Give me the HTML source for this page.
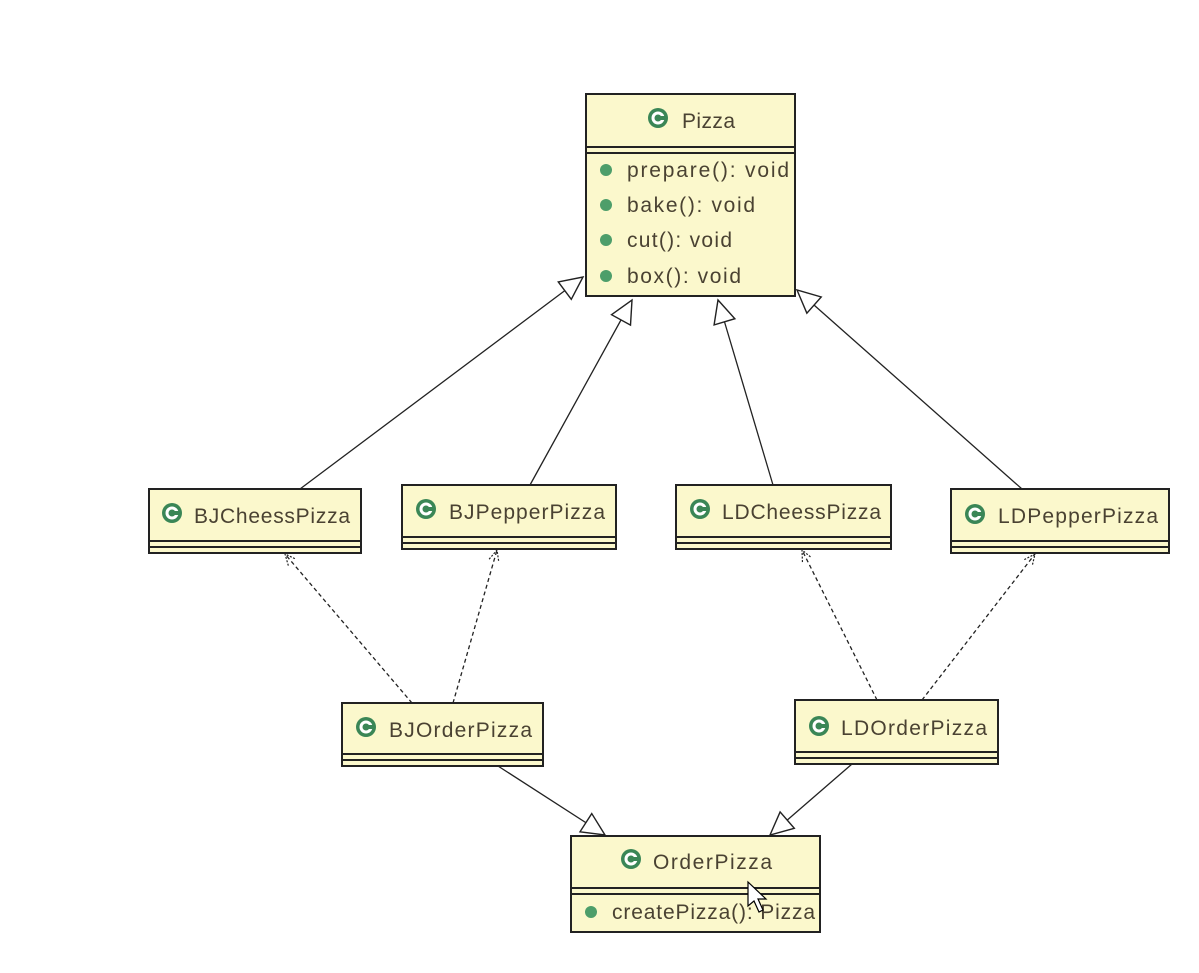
<!DOCTYPE html>
<html><head><meta charset="utf-8"><style>
html,body{margin:0;padding:0;background:#fff;}
svg{display:block;}
text{font-family:"Liberation Sans",sans-serif;fill:#4a4232;}
</style></head><body>
<svg width="1199" height="973" viewBox="0 0 1199 973" xmlns="http://www.w3.org/2000/svg">
<defs>
<marker id="tri" markerUnits="userSpaceOnUse" markerWidth="26" markerHeight="26" refX="22" refY="11" orient="auto" viewBox="0 0 24 22">
<path d="M1,1 L22,11 L1,21 Z" fill="#fff" stroke="#222" stroke-width="1.3"/>
</marker>
<marker id="open" markerUnits="userSpaceOnUse" markerWidth="14" markerHeight="14" refX="12" refY="6" orient="auto" viewBox="0 0 14 12">
<path d="M1,1 L12,6 L1,11" fill="none" stroke="#222" stroke-width="1.2" stroke-dasharray="2 1.5"/>
</marker>
<g id="ci"><circle r="10" fill="#3a8656"/><circle r="5" fill="none" stroke="#fff" stroke-width="3"/><rect x="2" y="-2" width="7" height="4" fill="#3a8656"/></g>
</defs>
<g stroke="#222" stroke-width="1.3" fill="none">
<line x1="300" y1="489" x2="583" y2="277" marker-end="url(#tri)"/>
<line x1="530" y1="485" x2="632" y2="300" marker-end="url(#tri)"/>
<line x1="773" y1="485" x2="718" y2="300" marker-end="url(#tri)"/>
<line x1="1022" y1="489" x2="797" y2="290" marker-end="url(#tri)"/>
<line x1="498" y1="766" x2="605" y2="835" marker-end="url(#tri)"/>
<line x1="852" y1="764" x2="770" y2="835" marker-end="url(#tri)"/>
<g stroke-dasharray="4 3">
<line x1="412" y1="703" x2="285" y2="554" marker-end="url(#open)"/>
<line x1="453" y1="703" x2="497" y2="550" marker-end="url(#open)"/>
<line x1="877" y1="700" x2="802" y2="550" marker-end="url(#open)"/>
<line x1="922" y1="700" x2="1035" y2="554" marker-end="url(#open)"/>
</g>
</g>
<g fill="#fbf8cc" stroke="#222" stroke-width="2">
<rect x="586" y="94" width="209" height="202"/>
<rect x="149" y="489" width="212" height="64"/>
<rect x="402" y="485" width="214" height="64"/>
<rect x="676" y="485" width="215" height="64"/>
<rect x="951" y="489" width="218" height="64"/>
<rect x="342" y="703" width="201" height="63"/>
<rect x="795" y="700" width="203" height="64"/>
<rect x="571" y="836" width="249" height="96"/>
</g>
<g stroke="#222" stroke-width="2">
<line x1="586" y1="147" x2="795" y2="147"/><line x1="586" y1="153" x2="795" y2="153"/>
<line x1="149" y1="541" x2="361" y2="541"/><line x1="149" y1="547" x2="361" y2="547"/>
<line x1="402" y1="537" x2="616" y2="537"/><line x1="402" y1="543" x2="616" y2="543"/>
<line x1="676" y1="537" x2="891" y2="537"/><line x1="676" y1="543" x2="891" y2="543"/>
<line x1="951" y1="541" x2="1169" y2="541"/><line x1="951" y1="547" x2="1169" y2="547"/>
<line x1="342" y1="754" x2="543" y2="754"/><line x1="342" y1="760" x2="543" y2="760"/>
<line x1="795" y1="752" x2="998" y2="752"/><line x1="795" y1="758" x2="998" y2="758"/>
<line x1="571" y1="888" x2="820" y2="888"/><line x1="571" y1="894" x2="820" y2="894"/>
</g>
<g font-size="21">
<use href="#ci" x="658" y="118"/><text x="682" y="128" textLength="53">Pizza</text>
<use href="#ci" x="172" y="513"/><text x="194" y="523" textLength="156">BJCheessPizza</text>
<use href="#ci" x="426" y="509"/><text x="449" y="519" textLength="156">BJPepperPizza</text>
<use href="#ci" x="700" y="509"/><text x="722" y="519" textLength="159">LDCheessPizza</text>
<use href="#ci" x="975" y="514"/><text x="998" y="523" textLength="160">LDPepperPizza</text>
<use href="#ci" x="366" y="727"/><text x="389" y="737" textLength="143">BJOrderPizza</text>
<use href="#ci" x="819" y="726"/><text x="841" y="735" textLength="146">LDOrderPizza</text>
<use href="#ci" x="631" y="859"/><text x="653" y="869" textLength="119">OrderPizza</text>
</g>
<g font-size="21">
<circle cx="606" cy="170" r="6" fill="#4d9e6a"/><text x="627" y="177" textLength="162">prepare(): void</text>
<circle cx="606" cy="205" r="6" fill="#4d9e6a"/><text x="627" y="212" textLength="128">bake(): void</text>
<circle cx="606" cy="240" r="6" fill="#4d9e6a"/><text x="627" y="247" textLength="105">cut(): void</text>
<circle cx="606" cy="276" r="6" fill="#4d9e6a"/><text x="627" y="283" textLength="114">box(): void</text>
<circle cx="591" cy="912" r="6" fill="#4d9e6a"/><text x="612" y="919" textLength="203">createPizza(): Pizza</text>
</g>
<path d="M748,882 L748,906 L754,901 L759,912 L763,910 L758,899 L766,899 Z" fill="#fff" stroke="#000" stroke-width="1.2"/>
</svg>
</body></html>
